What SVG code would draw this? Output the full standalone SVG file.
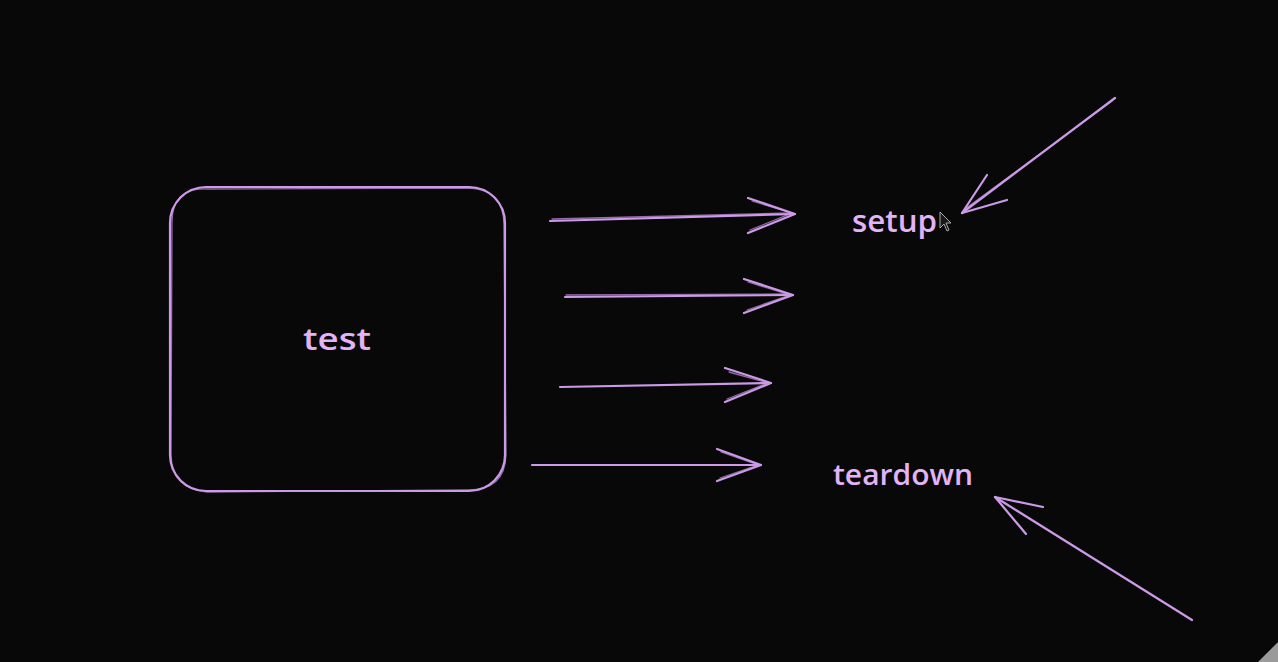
<svg xmlns="http://www.w3.org/2000/svg" width="1278" height="662" viewBox="0 0 1278 662">
  <style>
    .ln { fill: none; stroke: #cc9ae8; stroke-width: 2.2; stroke-linecap: round; stroke-linejoin: round; }
    .ln2 { fill: none; stroke: #cc9ae8; stroke-width: 1.3; stroke-linecap: round; opacity: 0.7; }
    .lbl { fill: #e2b3f6; font-family: "Open Sans", "Liberation Sans", sans-serif; font-weight: 600; }
  </style>
  <rect x="0" y="0" width="1278" height="662" fill="#080808"/>
  <path d="M1258 662 L1278 642 L1278 662 Z" fill="#9a9a9a"/>

  <g id="node-test">
    <rect class="ln" x="170" y="187" width="335" height="304" rx="36" ry="36"/>
    <path class="ln2" d="M206 189 L470 188 Q504 190 504 225 L506 455 Q505 490 468 490 L207 492 Q172 489 171 455 L172 222 Q172 188 206 189"/>
    <text class="lbl" x="337" y="350" font-size="30" text-anchor="middle" textLength="68" lengthAdjust="spacingAndGlyphs">test</text>
  </g>

  <g id="node-setup">
    <text class="lbl" x="852" y="232" font-size="30" textLength="85" lengthAdjust="spacingAndGlyphs">setup</text>
  </g>

  <g id="node-teardown">
    <text class="lbl" x="833" y="485" font-size="28" textLength="140" lengthAdjust="spacingAndGlyphs">teardown</text>
  </g>

  <g id="cursor">
    <path d="M940 212 L940 228 L944 224 L947 231 L949 230 L946 223 L951 223 Z" fill="#1a1a1a" stroke="#a8a8a8" stroke-width="1"/>
  </g>

  <g id="connectors">
    <path class="ln" d="M550 221 L795 214"/>
    <path class="ln2" d="M552 219 L790 213"/>
    <path class="ln" d="M748 198 L795 214 L748 233"/>
    <path class="ln2" d="M752 201 L792 213 L750 230"/>
    <path class="ln" d="M565 297 L793 295"/>
    <path class="ln2" d="M566 295 L788 294"/>
    <path class="ln" d="M744 279 L793 295 L744 313"/>
    <path class="ln2" d="M748 282 L790 295 L747 310"/>
    <path class="ln" d="M560 387 L771 383"/>
    <path class="ln" d="M725 368 L771 383 L725 402"/>
    <path class="ln2" d="M729 372 L768 383 L727 399"/>
    <path class="ln" d="M532 465 L761 465"/>
    <path class="ln" d="M717 449 L761 465 L717 481"/>
    <path class="ln2" d="M721 452 L758 465 L720 478"/>
    <path class="ln" d="M1115 98 L962 213"/>
    <path class="ln2" d="M1112 101 L965 209"/>
    <path class="ln" d="M987 175 L962 213 L1007 200"/>
    <path class="ln" d="M1192 620 L995 497"/>
    <path class="ln" d="M1043 507 L995 497 L1026 534"/>
  </g>
</svg>
